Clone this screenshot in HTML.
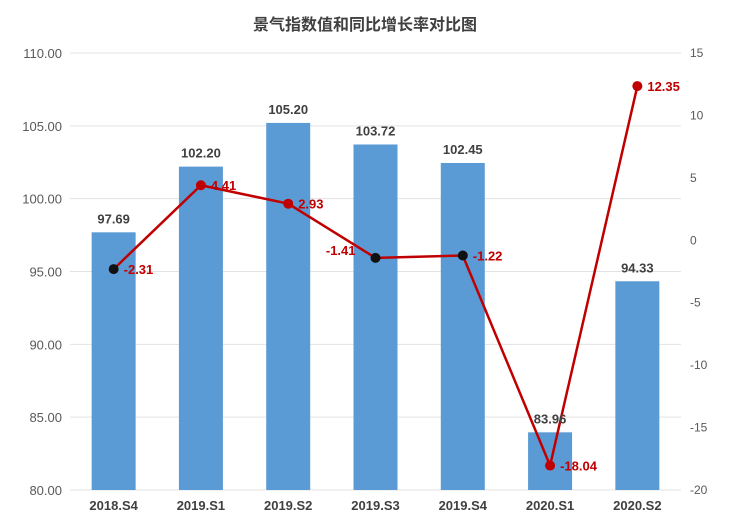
<!DOCTYPE html>
<html><head><meta charset="utf-8"><style>
body{margin:0;background:#fff;}
svg{display:block;font-family:"Liberation Sans","Noto Sans CJK SC",sans-serif;}
</style></head><body>
<svg id="chart" width="731" height="522">
<text x="365" y="30" text-anchor="middle" font-size="16" font-weight="bold" fill="#404040">景气指数值和同比增长率对比图</text>
<g id="grid"></g><g id="bars"></g><g id="line"></g><g id="labels"></g>
</svg>
<script>
const categories=["2018.S4","2019.S1","2019.S2","2019.S3","2019.S4","2020.S1","2020.S2"];
const indexValues=[97.69,102.20,105.20,103.72,102.45,83.96,94.33];
const growthValues=[-2.31,4.41,2.93,-1.41,-1.22,-18.04,12.35];
const growthDefined=[true,true,true,true,true,true,true];
const leftTicks=[80,85,90,95,100,105,110];
const rightTicks=[-20,-15,-10,-5,0,5,10,15];
const markerColors=["#111","#c00000","#c00000","#111","#111","#c00000","#c00000"];
const labelPos=["r","r","r","l","r","r","r"];
const NS="http://www.w3.org/2000/svg";
const X0=70,X1=681,YT=53,YB=490;
const step=(X1-X0)/categories.length;
const xc=i=>X0+step*(i+0.5);
const yL=v=>YB-(v-80)/30*(YB-YT);
const yR=v=>YB-(v+20)/35*(YB-YT);
function mk(tag,attrs,parent,txt){const e=document.createElementNS(NS,tag);for(const k in attrs)e.setAttribute(k,attrs[k]);if(txt!==undefined)e.textContent=txt;document.getElementById(parent).appendChild(e);return e;}
leftTicks.forEach(t=>{
  const l=mk("line",{x1:X0,x2:X1,y1:yL(t),y2:yL(t),stroke:"#e3e3e3","stroke-width":1},"grid");
  
  
  const tx=mk("text",{x:62,y:yL(t)+5,"text-anchor":"end","font-size":13,fill:"#595959"},"grid",t.toFixed(2));
  
  
});
rightTicks.forEach(t=>{
  const tx=mk("text",{x:690,y:yR(t)+4,"font-size":12,fill:"#595959"},"grid",String(t));
  
  
});
categories.forEach((c,i)=>{
  const bw=44,v=indexValues[i];
  const r=mk("rect",{x:xc(i)-bw/2,y:yL(v),width:bw,height:YB-yL(v),fill:"#5b9bd5"},"bars");
  
  
  const bl=mk("text",{x:xc(i),y:yL(v)-9,"text-anchor":"middle","font-size":13,"font-weight":"bold",fill:"#404040"},"labels",v.toFixed(2));
  
  
  const cl=mk("text",{x:xc(i),y:510,"text-anchor":"middle","font-size":13,"font-weight":"bold",fill:"#404040"},"labels",c);
  
  
});
const pts=growthValues.map((v,i)=>xc(i)+","+yR(v)).join(" ");
const pl=mk("polyline",{points:pts,fill:"none",stroke:"#c00000","stroke-width":2.5},"line");


growthValues.forEach((v,i)=>{
  const c=mk("circle",{cx:xc(i),cy:yR(v),r:5,fill:markerColors[i]},"line");
  
  
  const left=labelPos[i]==="l";
  const t=mk("text",{x:left?xc(i)-20:xc(i)+10,y:yR(v)+(left?-3:5),"text-anchor":left?"end":"start","font-size":13,"font-weight":"bold",fill:"#c00000"},"labels",v.toFixed(2));
  
  
});
</script>
</body></html>
